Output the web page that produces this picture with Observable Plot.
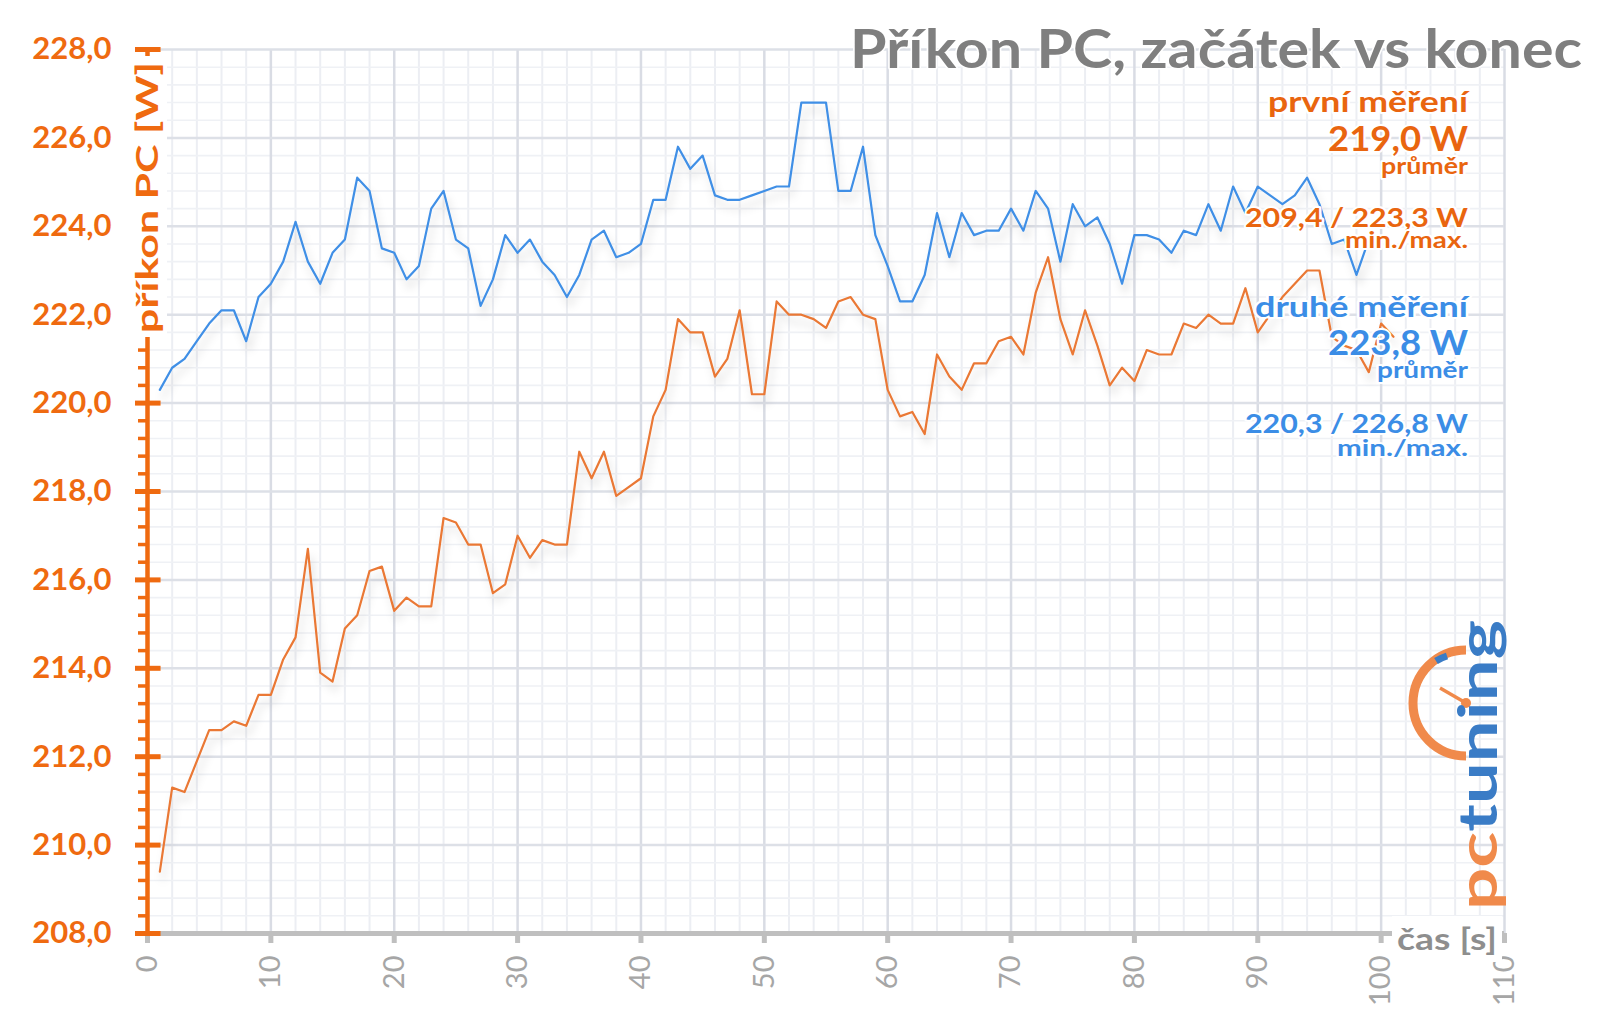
<!DOCTYPE html>
<html><head><meta charset="utf-8">
<script src="https://cdn.jsdelivr.net/npm/d3@7"></script>
<script src="https://cdn.jsdelivr.net/npm/@observablehq/plot@0.6"></script>
<style>
html,body{margin:0;padding:0;background:#fff;}
#chart{position:relative;width:1600px;height:1017px;overflow:hidden;}
#chart svg{display:block;}
</style></head><body><div id="chart"></div>
<script>
// první měření (W), one sample per second starting at 1 s
const power1 = [
 209.4,211.3,211.2,211.9,212.6,212.6,212.8,212.7,213.4,213.4,
 214.2,214.7,216.7,213.9,213.7,214.9,215.2,216.2,216.3,215.3,
 215.6,215.4,215.4,217.4,217.3,216.8,216.8,215.7,215.9,217.0,
 216.5,216.9,216.8,216.8,218.9,218.3,218.9,217.9,218.1,218.3,
 219.7,220.3,221.9,221.6,221.6,220.6,221.0,222.1,220.2,220.2,
 222.3,222.0,222.0,221.9,221.7,222.3,222.4,222.0,221.9,220.3,
 219.7,219.8,219.3,221.1,220.6,220.3,220.9,220.9,221.4,221.5,
 221.1,222.5,223.3,221.9,221.1,222.1,221.3,220.4,220.8,220.5,
 221.2,221.1,221.1,221.8,221.7,222.0,221.8,221.8,222.6,221.6,
 222.0,222.4,222.7,223.0,223.0,221.5,221.3,221.2,220.7,221.8,
 221.5
];
// druhé měření (W)
const power2 = [
 220.3,220.8,221.0,221.4,221.8,222.1,222.1,221.4,222.4,222.7,
 223.2,224.1,223.2,222.7,223.4,223.7,225.1,224.8,223.5,223.4,
 222.8,223.1,224.4,224.8,223.7,223.5,222.2,222.8,223.8,223.4,
 223.7,223.2,222.9,222.4,222.9,223.7,223.9,223.3,223.4,223.6,
 224.6,224.6,225.8,225.3,225.6,224.7,224.6,224.6,224.7,224.8,
 224.9,224.9,226.8,226.8,226.8,224.8,224.8,225.8,223.8,223.1,
 222.3,222.3,222.9,224.3,223.3,224.3,223.8,223.9,223.9,224.4,
 223.9,224.8,224.4,223.2,224.5,224.0,224.2,223.6,222.7,223.8,
 223.8,223.7,223.4,223.9,223.8,224.5,223.9,224.9,224.3,224.9,
 224.7,224.5,224.7,225.1,224.5,223.6,223.7,222.9,223.7
];
const xTicks = [0,10,20,30,40,50,60,70,80,90,100,110];
const yTicks = [208,210,212,214,216,218,220,222,224,226,228];
const xMinor = d3.range(0,56).map(i=>i*2).filter(v=>v%10!==0);
const yMinor = d3.range(0,51).filter(i=>i%5!==0).map(i=>208+i*0.4);

const title = "Příkon PC, začátek vs konec";
const yLabel = "příkon PC [W]";
const xLabel = "čas [s]";
const legend1 = ["první měření","219,0 W","průměr","209,4 / 223,3 W","min./max."];
const legend2 = ["druhé měření","223,8 W","průměr","220,3 / 226,8 W","min./max."];

const orange = "#ef6a10", blue = "#3b8de6";
const lineOrange = "#ea7834", lineBlue = "#3f8fe6";
const fmt = d => d.toFixed(1).replace(".", ",");

const chart = Plot.plot({
  width:1600, height:1017,
  marginLeft:147, marginRight:96, marginTop:49, marginBottom:84,
  x:{domain:[0,110]},
  y:{domain:[208,228]},
  style:{background:"#fff", fontFamily:"Lato, sans-serif"},
  marks:[
    Plot.ruleX(xMinor,{stroke:"#eceef3",strokeWidth:2}),
    Plot.ruleY(yMinor,{stroke:"#eff1f5",strokeWidth:1.6}),
    Plot.ruleX(xTicks,{stroke:"#d9dce4",strokeWidth:2.5}),
    Plot.ruleY(yTicks,{stroke:"#dde0e7",strokeWidth:2.5}),
    Plot.lineY(power1,{x:(d,i)=>i+1,y:d=>d,stroke:lineOrange,strokeWidth:2.2}),
    Plot.lineY(power2,{x:(d,i)=>i+1,y:d=>d,stroke:lineBlue,strokeWidth:2.2}),
    Plot.ruleY([208],{stroke:"#bfbfbf",strokeWidth:5}),
    Plot.axisX(xTicks,{tickSize:10,strokeWidth:5,stroke:"#bfbfbf",fill:"#a6a6a6",tickRotate:-90,tickPadding:12,fontSize:29,label:null,tickFormat:d=>String(d)}),
    Plot.ruleX([0],{stroke:orange,strokeWidth:4.5}),
    Plot.axisY(yMinor,{tickSize:9,strokeWidth:3.5,stroke:orange,tickFormat:()=>"",label:null}),
    Plot.axisY(yTicks,{tickSize:12,strokeWidth:5,stroke:orange,fill:orange,fontSize:31,fontWeight:"bold",tickPadding:24,tickFormat:fmt,label:null}),
    Plot.ruleY(yTicks,{x1:0,x2:1.1,stroke:orange,strokeWidth:5})
  ]
});
document.getElementById("chart").appendChild(chart);

const svg = d3.select(chart);
const defs = svg.append("defs");
const f = defs.append("filter").attr("id","sh").attr("x","-5%").attr("y","-30%").attr("width","110%").attr("height","170%");
f.append("feDropShadow").attr("dx",3).attr("dy",8).attr("stdDeviation",4).attr("flood-color","#000").attr("flood-opacity",0.16);
svg.selectAll('g[aria-label="line"]').attr("filter","url(#sh)");

const ann = svg.append("g").attr("font-family","Lato, sans-serif").attr("font-weight","bold").attr("text-anchor","start");
function label(g, text, right, baseline, size, length, color, halo=4) {
  g.append("text").attr("x", right-length).attr("y", baseline)
   .attr("text-anchor","start")
   .attr("font-size", size).attr("fill", color)
   .attr("textLength", length).attr("lengthAdjust","spacingAndGlyphs")
   .attr("stroke","#fff").attr("stroke-width",halo).attr("stroke-linejoin","round")
   .attr("paint-order","stroke")
   .text(text);
}
label(ann, title, 1582, 68, 54, 732, "#7f7f7f", 3);
const L = [[112,28,200],[151,34,140],[174,22,87],[227,27,223],[248,22,123]];
const L2 = [[317,28,213],[355,34,140],[378,22,91],[433,27,223],[456,22,131]];
legend1.forEach((t,i)=>label(ann,t,1468,L[i][0],L[i][1],L[i][2],"#e9650f"));
legend2.forEach((t,i)=>label(ann,t,1468,L2[i][0],L2[i][1],L2[i][2],blue));

// y-axis title
ann.append("rect").attr("x",129).attr("y",56).attr("width",38).attr("height",281).attr("fill","#fff");
ann.append("text").attr("transform","translate(158,333) rotate(-90)").attr("text-anchor","start")
  .attr("font-size",30).attr("fill",orange)
  .attr("textLength",271).attr("lengthAdjust","spacingAndGlyphs").text(yLabel);

// x-axis title
ann.append("rect").attr("x",1392).attr("y",916).attr("width",110).attr("height",46).attr("fill","#fff");
ann.append("text").attr("x",1397).attr("y",950).attr("text-anchor","start").attr("font-size",30).attr("fill","#8e8e8e")
  .attr("textLength",100).attr("lengthAdjust","spacingAndGlyphs").text(xLabel);

// pctuning logo
const logo = svg.append("g").attr("text-anchor","start");
logo.append("path").attr("d","M 1466 650 A 53 53 0 0 0 1466 756").attr("fill","none").attr("stroke","#f08a4b").attr("stroke-width",9);
logo.append("path").attr("d","M 1436 661 A 50 50 0 0 1 1447 656").attr("fill","none").attr("stroke","#3a7cc6").attr("stroke-width",7);
logo.append("line").attr("x1",1466).attr("y1",703).attr("x2",1440).attr("y2",688).attr("stroke","#f08a4b").attr("stroke-width",3.5);
logo.append("circle").attr("cx",1466).attr("cy",703).attr("r",5).attr("fill","#f08a4b");
const lt = logo.append("text").attr("transform","translate(1497,910) rotate(-90)").attr("text-anchor","start")
  .attr("font-family","Lato, sans-serif").attr("font-weight","bold").attr("font-size",53)
  .attr("textLength",290).attr("lengthAdjust","spacingAndGlyphs");
lt.append("tspan").attr("fill","#f08a4b").text("pc");
lt.append("tspan").attr("fill","#3a7cc6").text("tuning");
</script></body></html>
